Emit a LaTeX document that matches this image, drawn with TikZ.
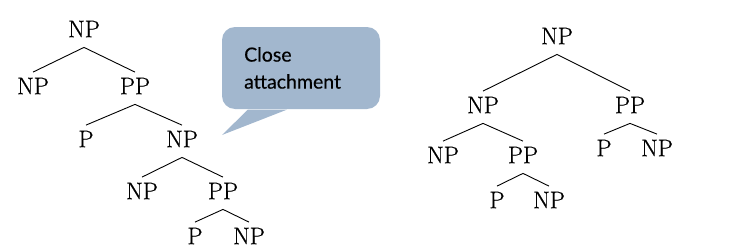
\documentclass[tikz,border=0pt]{standalone}
\usepackage{fontspec}
\newfontfamily\calloutfont{Lato}[FakeBold=0.3]
\newfontfamily\catfont{Latin Modern Roman}[FakeBold=0.6]
\usetikzlibrary{calc}
\definecolor{calloutblue}{RGB}{162,183,206}
\begin{document}
\begin{tikzpicture}[x=1pt,y=-1pt,
  cat/.style={inner sep=0pt,font=\catfont\fontsize{24}{26}\selectfont},
  branch/.style={line width=0.9pt},
  bubble/.style={fill=calloutblue,draw=none}]
\useasboundingbox (0,0) rectangle (732,249);

% left tree: close attachment
\node[cat] (a) at (84,29) {NP};
\node[cat] (a1) at (33,86) {NP};
\node[cat] (a2) at (135,86) {PP};
\node[cat] (a21) at (86,139) {P};
\node[cat] (a22) at (182,139) {NP};
\node[cat] (a221) at (142,191) {NP};
\node[cat] (a222) at (223,191) {PP};
\node[cat] (a2221) at (195,236) {P};
\node[cat] (a2222) at (249,236) {NP};

\foreach \p/\c in {a/a1,a/a2,a2/a21,a2/a22,a22/a221,a22/a222,a222/a2221,a222/a2222}
  \draw[branch] ([yshift=-10pt]\p.south) -- ([yshift=5.5pt]\c.north);

% callout
\node[bubble,rounded corners=13pt,minimum width=158pt,minimum height=82pt,inner sep=0pt] (callout) at (301,68) {};
\fill[calloutblue] ($(callout.south west)+(26,0.5)$) -- (222,135) -- ($(callout.south west)+(65,0.5)$) -- cycle;
\node[anchor=west,align=left,inner sep=0pt,font=\calloutfont\fontsize{19.5}{27}\selectfont] (note) at (244,68) {Close\\attachment};

% right tree: far attachment
\node[cat] (b) at (557,36) {NP};
\node[cat] (b1) at (483,105) {NP};
\node[cat] (b2) at (630,105) {PP};
\node[cat] (b11) at (443,155) {NP};
\node[cat] (b12) at (523,155) {PP};
\node[cat] (b121) at (497,200) {P};
\node[cat] (b122) at (549,200) {NP};
\node[cat] (b21) at (604,148) {P};
\node[cat] (b22) at (657,148) {NP};

\foreach \p/\c in {b/b1,b/b2,b1/b11,b1/b12,b12/b121,b12/b122,b2/b21,b2/b22}
  \draw[branch] ([yshift=-10pt]\p.south) -- ([yshift=5.5pt]\c.north);
\end{tikzpicture}
\end{document}
